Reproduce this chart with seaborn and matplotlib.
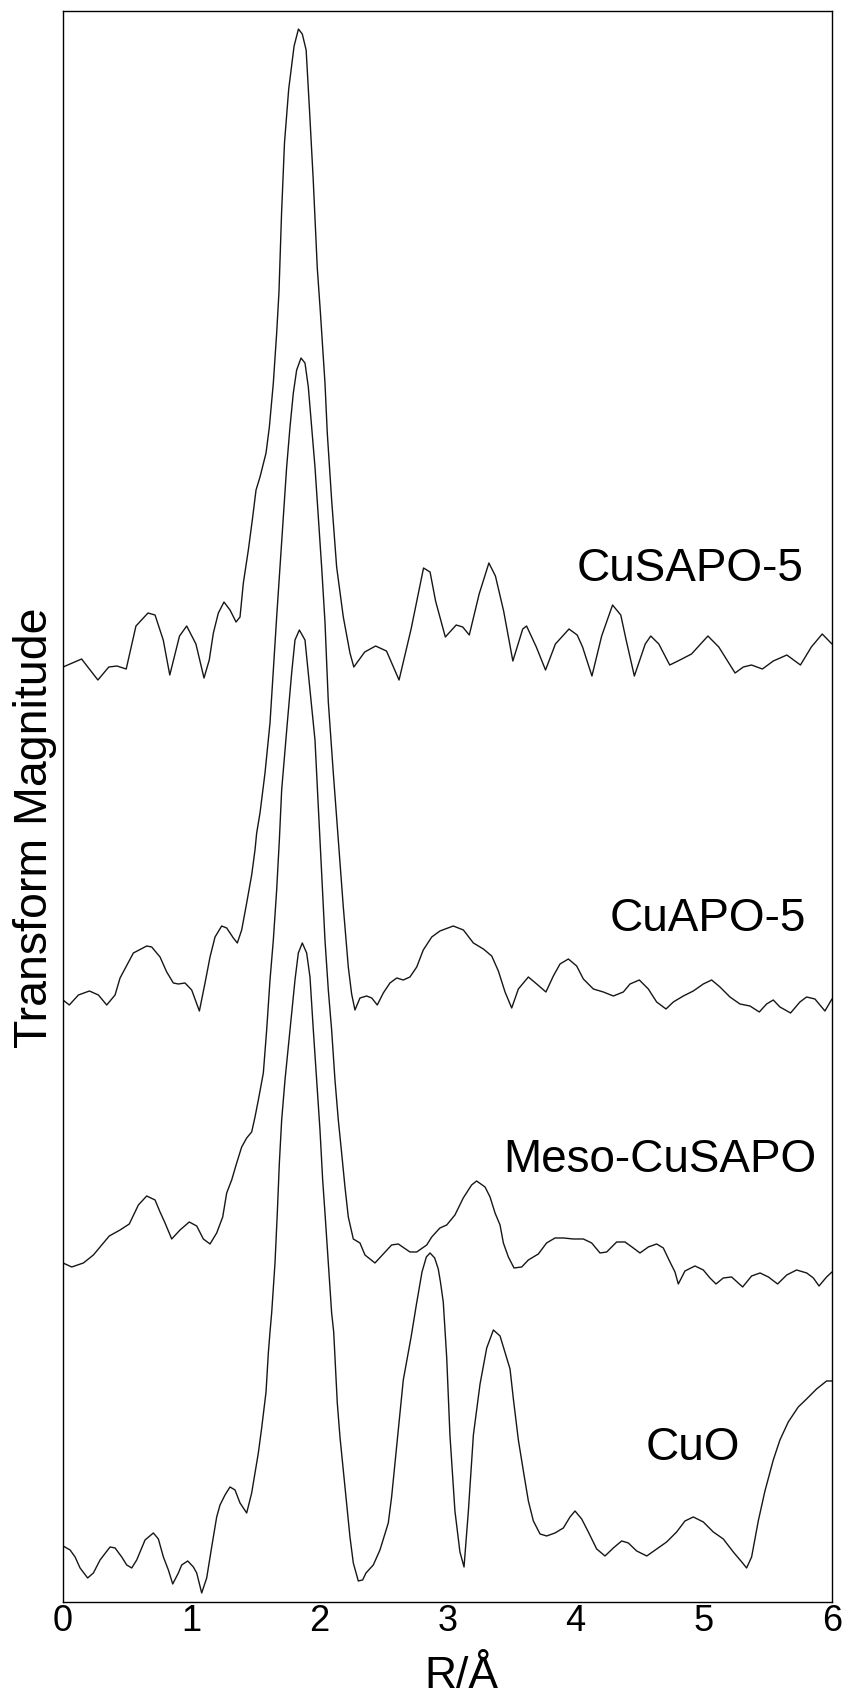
import numpy as np
import pandas as pd
import matplotlib
matplotlib.use('Agg')
import matplotlib.pyplot as plt
import seaborn as sns

"""stacked Fourier transform magnitudes (Cu K-edge EXAFS) for four samples"""

# values, curves already shifted vertically for stacking
cusapo5_r = [0.000, 0.145, 0.272, 0.357, 0.421, 0.493, 0.569, 0.663, 0.718, 0.782, 0.833, 0.909, 0.965, 1.037,
             1.100, 1.141, 1.173, 1.212, 1.256, 1.303, 1.350, 1.381, 1.407, 1.446, 1.480, 1.506, 1.537, 1.584,
             1.610, 1.641, 1.667, 1.685, 1.705, 1.728, 1.761, 1.803, 1.837, 1.867, 1.897, 1.922, 1.952, 1.984,
             2.008, 2.044, 2.062, 2.096, 2.135, 2.187, 2.239, 2.269, 2.354, 2.439, 2.524, 2.622, 2.716, 2.813,
             2.864, 2.907, 2.983, 3.068, 3.119, 3.170, 3.247, 3.323, 3.374, 3.438, 3.510, 3.587, 3.617, 3.693,
             3.765, 3.842, 3.948, 4.012, 4.054, 4.127, 4.203, 4.288, 4.352, 4.394, 4.458, 4.543, 4.586, 4.649,
             4.734, 4.798, 4.904, 5.032, 5.117, 5.244, 5.308, 5.372, 5.457, 5.542, 5.648, 5.754, 5.839, 5.924,
             6.000]
cusapo5_tm = [9.35, 9.43, 9.22, 9.35, 9.36, 9.33, 9.76, 9.89, 9.87, 9.62, 9.27, 9.66, 9.76, 9.58,
              9.24, 9.42, 9.69, 9.89, 10.00, 9.92, 9.80, 9.85, 10.19, 10.52, 10.85, 11.12, 11.25, 11.49,
              11.75, 12.19, 12.69, 13.10, 13.88, 14.59, 15.13, 15.56, 15.73, 15.68, 15.52, 14.95, 14.23, 13.34,
              12.90, 12.19, 11.69, 11.02, 10.35, 9.85, 9.49, 9.35, 9.50, 9.56, 9.51, 9.22, 9.73, 10.34,
              10.30, 10.01, 9.65, 9.77, 9.75, 9.67, 10.08, 10.39, 10.26, 9.91, 9.41, 9.73, 9.76, 9.55,
              9.32, 9.58, 9.73, 9.67, 9.55, 9.26, 9.66, 9.97, 9.87, 9.62, 9.26, 9.58, 9.66, 9.58,
              9.37, 9.41, 9.48, 9.66, 9.55, 9.29, 9.35, 9.37, 9.33, 9.41, 9.47, 9.37, 9.55, 9.68,
              9.58]

cuapo5_r = [0.000, 0.049, 0.120, 0.206, 0.276, 0.341, 0.406, 0.445, 0.549, 0.653, 0.692, 0.757, 0.809, 0.861,
            0.900, 0.952, 1.004, 1.064, 1.108, 1.147, 1.186, 1.238, 1.277, 1.329, 1.360, 1.394, 1.433, 1.472,
            1.498, 1.511, 1.537, 1.576, 1.615, 1.645, 1.667, 1.693, 1.719, 1.745, 1.771, 1.797, 1.823, 1.857,
            1.888, 1.914, 1.940, 1.966, 1.992, 2.018, 2.044, 2.070, 2.109, 2.148, 2.187, 2.226, 2.252, 2.278,
            2.317, 2.369, 2.409, 2.452, 2.499, 2.551, 2.604, 2.655, 2.707, 2.760, 2.811, 2.877, 2.941, 3.045,
            3.124, 3.202, 3.280, 3.345, 3.397, 3.449, 3.501, 3.553, 3.631, 3.696, 3.768, 3.826, 3.878, 3.943,
            4.008, 4.060, 4.138, 4.216, 4.294, 4.372, 4.424, 4.497, 4.567, 4.632, 4.705, 4.762, 4.840, 4.918,
            4.996, 5.061, 5.126, 5.204, 5.282, 5.360, 5.433, 5.490, 5.542, 5.594, 5.677, 5.750, 5.802, 5.867,
            5.945, 6.000]
cuapo5_tm = [6.02, 5.97, 6.07, 6.11, 6.07, 5.97, 6.07, 6.24, 6.49, 6.56, 6.55, 6.45, 6.30, 6.19,
             6.18, 6.19, 6.12, 5.91, 6.19, 6.45, 6.65, 6.76, 6.74, 6.64, 6.59, 6.72, 6.99, 7.27,
             7.52, 7.69, 7.89, 8.29, 8.79, 9.40, 9.85, 10.35, 10.85, 11.35, 11.75, 12.09, 12.32, 12.44,
             12.39, 12.15, 11.75, 11.35, 10.85, 10.35, 9.80, 9.00, 8.29, 7.62, 6.95, 6.35, 6.08, 5.92,
             6.04, 6.06, 6.04, 5.97, 6.09, 6.19, 6.24, 6.22, 6.25, 6.35, 6.52, 6.65, 6.71, 6.76,
             6.72, 6.59, 6.53, 6.46, 6.31, 6.10, 5.94, 6.13, 6.25, 6.18, 6.10, 6.26, 6.38, 6.43,
             6.36, 6.23, 6.13, 6.10, 6.06, 6.10, 6.18, 6.22, 6.13, 6.00, 5.93, 6.00, 6.06, 6.11,
             6.18, 6.22, 6.15, 6.05, 5.98, 5.96, 5.90, 5.98, 6.02, 5.95, 5.89, 6.00, 6.05, 6.03,
             5.91, 6.03]

meso_r = [0.000, 0.068, 0.159, 0.237, 0.302, 0.361, 0.445, 0.517, 0.588, 0.653, 0.718, 0.757, 0.796, 0.848,
          0.913, 0.985, 1.043, 1.095, 1.147, 1.199, 1.246, 1.277, 1.316, 1.355, 1.394, 1.433, 1.472, 1.498,
          1.524, 1.563, 1.589, 1.615, 1.641, 1.667, 1.688, 1.706, 1.750, 1.784, 1.810, 1.844, 1.888, 1.927,
          1.966, 1.992, 2.018, 2.044, 2.070, 2.096, 2.122, 2.148, 2.174, 2.200, 2.226, 2.265, 2.317, 2.356,
          2.434, 2.499, 2.564, 2.616, 2.707, 2.760, 2.838, 2.877, 2.941, 2.994, 3.058, 3.123, 3.188, 3.227,
          3.293, 3.332, 3.371, 3.410, 3.436, 3.475, 3.519, 3.579, 3.631, 3.709, 3.773, 3.839, 3.904, 3.982,
          4.060, 4.125, 4.190, 4.242, 4.320, 4.385, 4.450, 4.502, 4.567, 4.632, 4.684, 4.736, 4.775, 4.801,
          4.853, 4.931, 4.996, 5.048, 5.095, 5.152, 5.217, 5.303, 5.373, 5.439, 5.504, 5.576, 5.647, 5.724,
          5.803, 5.855, 5.899, 5.958, 6.000]
meso_tm = [3.39, 3.35, 3.39, 3.47, 3.57, 3.66, 3.72, 3.78, 3.97, 4.06, 4.02, 3.90, 3.79, 3.63,
           3.72, 3.80, 3.76, 3.63, 3.58, 3.69, 3.85, 4.09, 4.22, 4.39, 4.55, 4.64, 4.70, 4.85,
           5.02, 5.29, 5.72, 6.22, 6.62, 7.12, 7.62, 8.12, 8.79, 9.29, 9.62, 9.72, 9.62, 9.12,
           8.62, 7.95, 7.29, 6.62, 6.12, 5.72, 5.22, 4.82, 4.49, 4.15, 3.85, 3.63, 3.59, 3.47,
           3.39, 3.48, 3.57, 3.58, 3.50, 3.50, 3.57, 3.65, 3.74, 3.77, 3.87, 4.04, 4.17, 4.21,
           4.15, 4.05, 3.89, 3.77, 3.59, 3.45, 3.34, 3.35, 3.42, 3.48, 3.59, 3.64, 3.64, 3.63,
           3.63, 3.59, 3.49, 3.50, 3.60, 3.60, 3.54, 3.49, 3.55, 3.58, 3.54, 3.40, 3.30, 3.18,
           3.31, 3.36, 3.32, 3.24, 3.18, 3.24, 3.25, 3.15, 3.26, 3.29, 3.25, 3.18, 3.27, 3.32,
           3.29, 3.24, 3.16, 3.25, 3.30]

cuo_r = [0.000, 0.055, 0.094, 0.133, 0.192, 0.237, 0.289, 0.367, 0.406, 0.458, 0.497, 0.536, 0.575, 0.640,
         0.705, 0.744, 0.783, 0.822, 0.856, 0.900, 0.926, 0.973, 1.017, 1.043, 1.082, 1.121, 1.160, 1.199,
         1.225, 1.264, 1.303, 1.342, 1.381, 1.433, 1.472, 1.498, 1.524, 1.550, 1.584, 1.602, 1.615, 1.628,
         1.654, 1.672, 1.688, 1.706, 1.732, 1.758, 1.784, 1.810, 1.836, 1.867, 1.901, 1.927, 1.953, 1.979,
         2.005, 2.026, 2.044, 2.070, 2.096, 2.112, 2.140, 2.161, 2.187, 2.213, 2.239, 2.265, 2.304, 2.338,
         2.364, 2.421, 2.473, 2.538, 2.564, 2.590, 2.616, 2.655, 2.716, 2.758, 2.801, 2.835, 2.864, 2.900,
         2.928, 2.945, 2.967, 2.994, 3.019, 3.058, 3.097, 3.129, 3.163, 3.202, 3.254, 3.306, 3.358, 3.410,
         3.462, 3.488, 3.514, 3.553, 3.592, 3.631, 3.670, 3.722, 3.774, 3.839, 3.904, 3.956, 3.995, 4.047,
         4.099, 4.164, 4.229, 4.294, 4.359, 4.411, 4.476, 4.555, 4.632, 4.710, 4.788, 4.853, 4.918, 4.996,
         5.074, 5.152, 5.230, 5.296, 5.334, 5.373, 5.425, 5.477, 5.542, 5.594, 5.659, 5.737, 5.802, 5.880,
         5.958, 6.000]
cuo_tm = [0.56, 0.52, 0.45, 0.34, 0.24, 0.29, 0.42, 0.55, 0.54, 0.45, 0.37, 0.34, 0.42, 0.62,
          0.69, 0.63, 0.45, 0.32, 0.18, 0.29, 0.37, 0.41, 0.35, 0.29, 0.09, 0.24, 0.55, 0.85,
          0.97, 1.07, 1.15, 1.12, 0.99, 0.89, 1.09, 1.29, 1.49, 1.74, 2.10, 2.49, 2.70, 2.89,
          3.39, 3.89, 4.39, 4.82, 5.22, 5.55, 5.89, 6.22, 6.49, 6.59, 6.49, 6.25, 5.72, 5.22,
          4.72, 4.22, 3.89, 3.39, 2.89, 2.70, 1.99, 1.65, 1.32, 0.99, 0.65, 0.39, 0.21, 0.22,
          0.29, 0.37, 0.52, 0.79, 1.05, 1.39, 1.72, 2.22, 2.65, 2.98, 3.30, 3.45, 3.49, 3.44,
          3.33, 3.20, 3.00, 2.44, 1.67, 0.91, 0.50, 0.35, 0.91, 1.67, 2.18, 2.54, 2.72, 2.66,
          2.44, 2.33, 2.03, 1.62, 1.31, 1.01, 0.81, 0.68, 0.66, 0.69, 0.74, 0.85, 0.91, 0.83,
          0.70, 0.53, 0.46, 0.54, 0.61, 0.59, 0.51, 0.46, 0.53, 0.60, 0.70, 0.81, 0.85, 0.80,
          0.70, 0.63, 0.50, 0.40, 0.34, 0.45, 0.81, 1.11, 1.42, 1.62, 1.80, 1.95, 2.03, 2.13,
          2.21, 2.21]

samples = ['CuSAPO-5', 'CuAPO-5', 'Meso-CuSAPO', 'CuO']
x_ticks = [0, 1, 2, 3, 4, 5, 6]


def main():
    df = build_frame()
    plot_data(df)


def build_frame():
    """long form table of all four traces
    :return: dataframe with R, magnitude and sample columns
    """
    traces = [(cusapo5_r, cusapo5_tm), (cuapo5_r, cuapo5_tm), (meso_r, meso_tm), (cuo_r, cuo_tm)]
    frames = []
    for name, (r, tm) in zip(samples, traces):
        frames.append(pd.DataFrame({'R': r, 'TM': tm, 'sample': name}))
    return pd.concat(frames, ignore_index=True)


def plot_data(df):
    """draws the stacked traces and saves out.png
    :param df: long form dataframe
    :return: none
    """
    sns.set_style('white')
    plt.rcParams['font.family'] = ['Liberation Sans', 'DejaVu Sans']
    plt.rcParams['text.color'] = 'black'
    plt.rcParams['axes.labelcolor'] = 'black'

    fig = plt.figure(figsize=(8.54, 16.97), dpi=100)
    ax = fig.add_axes([0.0738, 0.0560, 0.9004, 0.9375])

    sns.lineplot(data=df, x='R', y='TM', hue='sample', units='sample', estimator=None, sort=False,
                 palette={s: '#161616' for s in samples}, linewidth=1.0, legend=False, ax=ax)

    ax.set_xlim(0, 6)
    ax.set_ylim(0, 15.91)
    ax.set_xticks(x_ticks)
    ax.set_xticklabels([str(t) for t in x_ticks])
    ax.set_yticks([])
    ax.set_xlabel('')
    ax.set_ylabel('')
    ax.tick_params(axis='x', direction='in', length=5, width=0.8, labelsize=26, pad=1.5,
                   colors='black', labelcolor='black')
    for side in ['top', 'bottom', 'left', 'right']:
        ax.spines[side].set_visible(True)
        ax.spines[side].set_color('black')
        ax.spines[side].set_linewidth(1.0)

    # sample names next to their trace
    label_pos = {'CuSAPO-5': (4.89, 10.21), 'CuAPO-5': (5.03, 6.71),
                 'Meso-CuSAPO': (4.66, 4.30), 'CuO': (4.915, 1.42)}
    for name, (lx, ly) in label_pos.items():
        ax.text(lx, ly, name, ha='center', va='baseline', fontsize=33, color='black')

    fig.text(35 / 854, 1 - 828 / 1697, 'Transform Magnitude', rotation=90, ha='center', va='center',
             fontsize=33.5, color='black')
    fig.text(461.5 / 854, 1 - 1688 / 1697, 'R/Å', ha='center', va='baseline', fontsize=32, color='black')

    fig.savefig('out.png', dpi=100, facecolor='white')
    plt.close()


main()
